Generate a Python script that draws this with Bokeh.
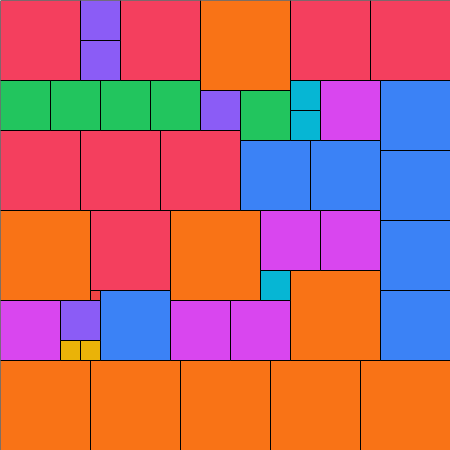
from bokeh.plotting import figure
from bokeh.models import Range1d, ColumnDataSource
from bokeh.embed import file_html
from bokeh.resources import INLINE

# Square-packing: n squares of side n (n = 1..9) tile a 45 x 45 square
GRID = 45
sizes = [9, 8, 7, 6, 5, 4, 3, 2, 1]
colors = ["#f97316", "#f43f5e", "#3b82f6", "#d946ef", "#22c55e",
          "#8b5cf6", "#06b6d4", "#eab308", "#ef4444"]

# top-left corners (column, row from top) of each square, by size
pos_9 = [(20, 0), (0, 21), (17, 21), (29, 27), (0, 36), (9, 36), (18, 36), (27, 36), (36, 36)]
pos_8 = [(0, 0), (12, 0), (29, 0), (37, 0), (0, 13), (8, 13), (16, 13), (9, 21)]
pos_7 = [(38, 8), (38, 15), (38, 22), (38, 29), (24, 14), (31, 14), (10, 29)]
pos_6 = [(32, 8), (26, 21), (32, 21), (0, 30), (17, 30), (23, 30)]
pos_5 = [(0, 8), (5, 8), (10, 8), (15, 8), (24, 9)]
pos_4 = [(8, 0), (8, 4), (20, 9), (6, 30)]
pos_3 = [(29, 8), (29, 11), (26, 27)]
pos_2 = [(6, 34), (8, 34)]
pos_1 = [(9, 29)]

positions = [pos_9, pos_8, pos_7, pos_6, pos_5, pos_4, pos_3, pos_2, pos_1]

left, right, top, bottom, fill = [], [], [], [], []
for s, c, plist in zip(sizes, colors, positions):
    for (x, y) in plist:
        left.append(x)
        right.append(x + s)
        top.append(y)
        bottom.append(y + s)
        fill.append(c)

src = ColumnDataSource(dict(left=left, right=right, top=top, bottom=bottom, fill=fill))

p = figure(width=450, height=450, output_backend="svg", toolbar_location=None,
           x_range=Range1d(0, GRID), y_range=Range1d(GRID, 0),
           min_border=0, min_border_left=0, min_border_right=0,
           min_border_top=0, min_border_bottom=0)
p.axis.visible = False
p.grid.visible = False
p.outline_line_color = None
p.background_fill_color = "white"
p.border_fill_color = "white"

p.quad(left="left", right="right", top="top", bottom="bottom", source=src,
       fill_color="fill", line_color="black", line_width=1)

html = file_html(p, INLINE)
html = html.replace("<body>", '<body style="margin:0;padding:0">', 1)
open("out.html", "w").write(html)
